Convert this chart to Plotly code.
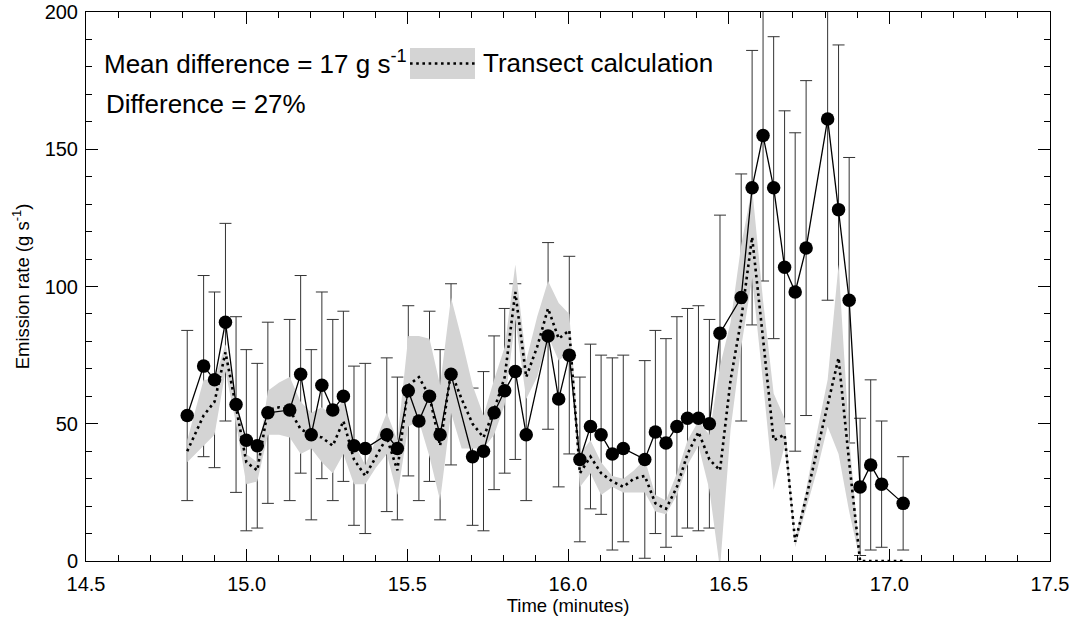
import plotly.graph_objects as go

# ---- measured emission-rate points (time in minutes, g/s, +/- error) ----
pt_time = [14.815, 14.866, 14.900, 14.934, 14.967, 14.999, 15.033, 15.066, 15.134, 15.168,
           15.201, 15.234, 15.268, 15.301, 15.334, 15.369, 15.436, 15.469, 15.503, 15.536,
           15.569, 15.602, 15.636, 15.703, 15.737, 15.770, 15.803, 15.836, 15.870, 15.938,
           15.971, 16.004, 16.037, 16.070, 16.103, 16.138, 16.172, 16.239, 16.272, 16.305,
           16.339, 16.372, 16.406, 16.440, 16.473, 16.539, 16.573, 16.607, 16.640, 16.674,
           16.707, 16.741, 16.808, 16.842, 16.875, 16.909, 16.942, 16.976, 17.043]
pt_rate = [53, 71, 66, 87, 57, 44, 42, 54, 55, 68,
           46, 64, 55, 60, 42, 41, 46, 41, 62, 51,
           60, 46, 68, 38, 40, 54, 62, 69, 46, 82,
           59, 75, 37, 49, 46, 39, 41, 37, 47, 43,
           49, 52, 52, 50, 83, 96, 136, 155, 136, 107,
           98, 114, 161, 128, 95, 27, 35, 28, 21]
pt_err = [31, 33, 32, 36, 32, 33, 30, 33, 33, 36,
          31, 34, 33, 31, 29, 31, 28, 26, 31, 29,
          31, 31, 33, 25, 29, 28, 30, 32, 24, 34,
          32, 36, 30, 30, 29, 35, 34, 36, 37, 38,
          40, 40, 41, 38, 43, 45, 50, 53, 55, 57,
          58, 61, 66, 60, 52, 25, 31, 23, 17]

# ---- transect calculation (dotted line) and its uncertainty band ----
tr_time = [14.815, 14.866, 14.900, 14.934, 14.967, 14.999, 15.033, 15.066, 15.101, 15.134,
           15.168, 15.201, 15.234, 15.268, 15.301, 15.334, 15.369, 15.402, 15.436, 15.469,
           15.503, 15.536, 15.569, 15.602, 15.636, 15.669, 15.703, 15.737, 15.770, 15.803,
           15.836, 15.870, 15.904, 15.938, 15.971, 16.004, 16.037, 16.070, 16.103, 16.138,
           16.172, 16.205, 16.239, 16.272, 16.305, 16.339, 16.372, 16.406, 16.440, 16.473,
           16.506, 16.539, 16.573, 16.607, 16.640, 16.674, 16.707, 16.741, 16.775, 16.808,
           16.842, 16.875, 16.909, 16.942, 16.976, 17.009, 17.043]
tr_mid = [40, 53, 58, 76, 56, 36, 33, 55, 56, 55,
          48, 46, 45, 42, 51, 37, 31, 38, 45, 33,
          64, 67, 60, 42, 69, 59, 50, 45, 55, 67,
          98, 67, 78, 92, 81, 84, 32, 38, 32, 29,
          27, 30, 31, 21, 19, 27, 39, 47, 37, 33,
          66, 88, 118, 81, 44, 46, 7, 23, 40, 57,
          74, 36, 0, 0, 0, 0, 0]
tr_hi = [44, 66, 66, 79, 60, 39, 36, 62, 65, 67,
         58, 54, 56, 53, 59, 43, 35, 44, 54, 44,
         82, 82, 81, 64, 96, 81, 64, 53, 66, 78,
         108, 73, 89, 102, 94, 90, 39, 44, 36, 31,
         30, 33, 37, 24, 22, 32, 44, 51, 46, 71,
         87, 115, 136, 95, 61, 52, 8, 26, 47, 66,
         108, 45, 0, 0, 0, 0, 0]
tr_lo = [36, 42, 46, 69, 50, 28, 29, 46, 46, 45,
         39, 41, 36, 32, 39, 28, 28, 34, 39, 24,
         49, 51, 38, 22, 54, 41, 41, 41, 46, 57,
         88, 59, 67, 82, 73, 76, 27, 32, 24, 27,
         25, 25, 25, 18, 17, 24, 35, 42, 26, -3,
         48, 78, 103, 65, 26, 42, 5, 19, 33, 49,
         39, 18, 0, 0, 0, 0, 0]

x_ticks = [14.5, 15.0, 15.5, 16.0, 16.5, 17.0, 17.5]
y_ticks = [0, 50, 100, 150, 200]

FONT = "Liberation Sans, Arial, Helvetica, sans-serif"

fig = go.Figure()

# error bars (drawn under the band)
fig.add_trace(go.Scatter(
    x=pt_time, y=pt_rate, mode="markers",
    marker=dict(size=1, color="rgba(0,0,0,0)"),
    error_y=dict(type="data", array=pt_err, visible=True,
                 color="#333333", thickness=1, width=6),
    showlegend=False, hoverinfo="skip"))

# uncertainty band of the transect calculation
fig.add_trace(go.Scatter(
    x=tr_time + tr_time[::-1], y=tr_hi + tr_lo[::-1],
    mode="lines", fill="toself", fillcolor="#d4d4d4",
    line=dict(width=0, color="#d4d4d4"),
    showlegend=False, hoverinfo="skip"))

# transect calculation dotted line
fig.add_trace(go.Scatter(
    x=tr_time, y=tr_mid, mode="lines",
    line=dict(color="black", width=2.6, dash="2.6px,3.6px"),
    showlegend=False))

# measured points
fig.add_trace(go.Scatter(
    x=pt_time, y=pt_rate, mode="lines+markers",
    line=dict(color="black", width=1.3),
    marker=dict(color="black", size=13.5),
    showlegend=False))

axis_common = dict(
    showline=True, linecolor="black", linewidth=1, mirror="allticks",
    ticks="inside", ticklen=12, tickcolor="black", tickwidth=1,
    showgrid=False, zeroline=False, automargin=False,
    tickfont=dict(family=FONT, size=20, color="black"),
)

fig.update_xaxes(
    range=[14.5, 17.5], tickvals=x_ticks,
    ticktext=[f"{v:.1f}" for v in x_ticks],
    ticklabelstandoff=5,
    minor=dict(dtick=0.1, ticklen=6, ticks="inside", tickcolor="black", showgrid=False),
    title=dict(text="Time (minutes)", font=dict(family=FONT, size=18.5, color="black"),
               standoff=4),
    **axis_common)
fig.update_yaxes(
    range=[0, 200], tickvals=y_ticks,
    ticklabelstandoff=3,
    minor=dict(dtick=10, ticklen=6, ticks="inside", tickcolor="black", showgrid=False),
    title=dict(text="Emission rate (g s<sup>-1</sup>)",
               font=dict(family=FONT, size=18.5, color="black"), standoff=10),
    **axis_common)

L, R, T, B = 86, 33, 12, 58
PW, PH = 1083 - L - R, 619 - T - B


def px(xp):
    return (xp - L) / PW


def py(yp):
    return (619 - B - yp) / PH


fig.update_layout(
    width=1083, height=619,
    margin=dict(l=L, r=R, t=T, b=B, pad=0),
    paper_bgcolor="white", plot_bgcolor="white",
    font=dict(family=FONT, color="black"),
    showlegend=False,
    shapes=[
        dict(type="rect", xref="paper", yref="paper",
             x0=px(410), x1=px(475), y0=py(79), y1=py(48),
             fillcolor="#d4d4d4", line=dict(width=0), layer="above"),
        dict(type="line", xref="paper", yref="paper",
             x0=px(410), x1=px(475), y0=py(63.5), y1=py(63.5),
             line=dict(color="black", width=2.6, dash="2.6px,3.6px"), layer="above"),
    ],
    annotations=[
        dict(text="Mean difference = 17 g s<sup>-1</sup>", xref="paper", yref="paper",
             x=px(102), y=py(63), xanchor="left", yanchor="middle", showarrow=False,
             font=dict(family=FONT, size=26, color="black")),
        dict(text="Transect calculation", xref="paper", yref="paper",
             x=px(481), y=py(63), xanchor="left", yanchor="middle", showarrow=False,
             font=dict(family=FONT, size=26, color="black")),
        dict(text="Difference = 27%", xref="paper", yref="paper",
             x=px(104), y=py(104), xanchor="left", yanchor="middle", showarrow=False,
             font=dict(family=FONT, size=26, color="black")),
    ],
)

fig.write_html("out.html")
